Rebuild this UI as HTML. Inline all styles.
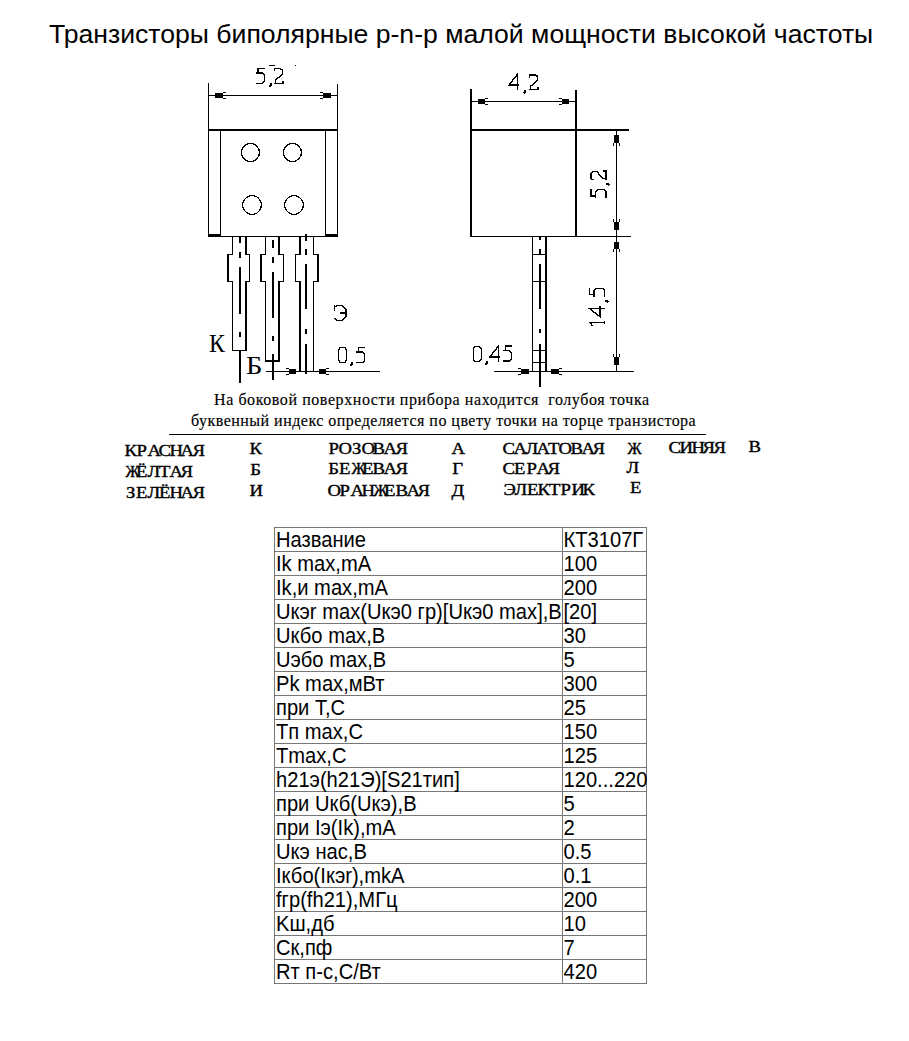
<!DOCTYPE html>
<html><head><meta charset="utf-8"><style>
html,body{margin:0;padding:0;background:#fff;}
body{width:909px;height:1041px;position:relative;overflow:hidden;}
.t{position:absolute;white-space:nowrap;}
#title{left:49px;top:21px;font:26.6px/26px "Liberation Sans",sans-serif;color:#000;}
.s{position:absolute;white-space:nowrap;font-family:"Liberation Serif",serif;color:#000;}
.m{position:absolute;white-space:nowrap;font:17px/1 "Liberation Serif",serif;color:#000;margin-top:-3px;-webkit-text-stroke:0.4px #000;}
.m span{display:inline-block;width:11.3px;text-align:center;transform:scaleX(1.1);}
.m span.n{transform:scaleX(0.92);}
.c{position:absolute;white-space:nowrap;font:20.15px/24px "Liberation Sans",sans-serif;color:#000;transform:scaleY(1.06);transform-origin:0 19px;margin-top:1px;}
</style></head><body>
<div id="title" class="t">Транзисторы биполярные p-n-p малой мощности высокой частоты</div>
<svg width="909" height="1041" style="position:absolute;left:0;top:0"><g fill="#000" shape-rendering="crispEdges"><rect x="208" y="83" width="1" height="154"/><rect x="337" y="84" width="1" height="153"/><rect x="208" y="95" width="130" height="1"/><rect x="215" y="93" width="8" height="5"/><rect x="223" y="92" width="3" height="1"/><rect x="223" y="98" width="3" height="1"/><rect x="323" y="93" width="8" height="5"/><rect x="320" y="92" width="3" height="1"/><rect x="320" y="98" width="3" height="1"/><rect x="208" y="129" width="130" height="2"/><rect x="220" y="129" width="1" height="108"/><rect x="325" y="129" width="1" height="108"/><rect x="208" y="236" width="130" height="1"/><rect x="208" y="234" width="13" height="2"/><rect x="325" y="234" width="13" height="2"/><circle cx="250.5" cy="152.5" r="9" fill="none" stroke="#000" stroke-width="1.2"/><circle cx="292.5" cy="152.5" r="9" fill="none" stroke="#000" stroke-width="1.2"/><circle cx="252" cy="205" r="9.4" fill="none" stroke="#000" stroke-width="1.2"/><circle cx="294" cy="205" r="9.4" fill="none" stroke="#000" stroke-width="1.2"/><rect x="232" y="237" width="1" height="18"/><rect x="245" y="237" width="2" height="18"/><rect x="227" y="254" width="6" height="1"/><rect x="245" y="254" width="5" height="1"/><rect x="227" y="254" width="2" height="28"/><rect x="249" y="254" width="1" height="28"/><rect x="227" y="281" width="6" height="1"/><rect x="245" y="281" width="5" height="1"/><rect x="232" y="281" width="1" height="70"/><rect x="245" y="281" width="2" height="70"/><rect x="232" y="350" width="15" height="1"/><rect x="239" y="237" width="2" height="6"/><rect x="239" y="252" width="2" height="6"/><rect x="239" y="267" width="2" height="47"/><rect x="239" y="332" width="2" height="5"/><rect x="239" y="351" width="2" height="32"/><rect x="265" y="237" width="1" height="18"/><rect x="278" y="237" width="2" height="18"/><rect x="260" y="254" width="6" height="1"/><rect x="278" y="254" width="6" height="1"/><rect x="260" y="254" width="2" height="28"/><rect x="283" y="254" width="1" height="28"/><rect x="260" y="281" width="6" height="1"/><rect x="278" y="281" width="6" height="1"/><rect x="265" y="281" width="1" height="81"/><rect x="278" y="281" width="2" height="81"/><rect x="265" y="360" width="15" height="2"/><rect x="272" y="240" width="2" height="8"/><rect x="272" y="257" width="2" height="6"/><rect x="272" y="272" width="2" height="46"/><rect x="272" y="336" width="2" height="5"/><rect x="272" y="354" width="2" height="26"/><rect x="299" y="237" width="2" height="18"/><rect x="313" y="237" width="1" height="18"/><rect x="295" y="254" width="5" height="1"/><rect x="313" y="254" width="6" height="1"/><rect x="295" y="254" width="1" height="28"/><rect x="317" y="254" width="2" height="28"/><rect x="295" y="281" width="5" height="1"/><rect x="313" y="281" width="6" height="1"/><rect x="299" y="281" width="2" height="91"/><rect x="313" y="281" width="1" height="91"/><rect x="305" y="234" width="2" height="7"/><rect x="305" y="249" width="2" height="6"/><rect x="305" y="264" width="2" height="45"/><rect x="305" y="329" width="2" height="5"/><rect x="305" y="344" width="2" height="30"/><rect x="266" y="371" width="114" height="1"/><rect x="289" y="369" width="7" height="5"/><rect x="286" y="368" width="3" height="1"/><rect x="286" y="374" width="3" height="1"/><rect x="319" y="369" width="7" height="5"/><rect x="326" y="368" width="3" height="1"/><rect x="326" y="374" width="3" height="1"/><rect x="470" y="89" width="2" height="148"/><rect x="575" y="90" width="2" height="147"/><rect x="470" y="101" width="107" height="1"/><rect x="478" y="99" width="7" height="5"/><rect x="485" y="98" width="3" height="1"/><rect x="485" y="104" width="3" height="1"/><rect x="562" y="99" width="7" height="5"/><rect x="559" y="98" width="3" height="1"/><rect x="559" y="104" width="3" height="1"/><rect x="470" y="129" width="159" height="2"/><rect x="470" y="236" width="161" height="1"/><rect x="616" y="129" width="1" height="243"/><rect x="614" y="135" width="5" height="8"/><rect x="613" y="143" width="1" height="3"/><rect x="619" y="143" width="1" height="3"/><rect x="614" y="222" width="5" height="8"/><rect x="613" y="219" width="1" height="3"/><rect x="619" y="219" width="1" height="3"/><rect x="614" y="242" width="5" height="7"/><rect x="613" y="249" width="1" height="3"/><rect x="619" y="249" width="1" height="3"/><rect x="614" y="357" width="5" height="8"/><rect x="613" y="354" width="1" height="3"/><rect x="619" y="354" width="1" height="3"/><rect x="532" y="237" width="1" height="135"/><rect x="545" y="237" width="2" height="135"/><rect x="532" y="254" width="15" height="1"/><rect x="532" y="281" width="15" height="1"/><rect x="532" y="350" width="15" height="1"/><rect x="532" y="362" width="15" height="1"/><rect x="539" y="237" width="2" height="3"/><rect x="539" y="249" width="2" height="5"/><rect x="539" y="264" width="2" height="45"/><rect x="539" y="329" width="2" height="4"/><rect x="539" y="344" width="2" height="43"/><rect x="494" y="371" width="140" height="1"/><rect x="521" y="369" width="8" height="5"/><rect x="518" y="368" width="3" height="1"/><rect x="518" y="374" width="3" height="1"/><rect x="551" y="369" width="8" height="5"/><rect x="559" y="368" width="3" height="1"/><rect x="559" y="374" width="3" height="1"/><g transform="translate(256,68)" fill="none" stroke="#000"><path d="M8.6,0.5 L2,0.5 L2,4.8 M0,4.8 L6,4.8 L8.3,7 L8.3,13.5 L6.3,15.5 L0,15.5" transform="translate(0,0)" stroke-width="1.4"/><path d="M1.5,15.3 L1.5,17.3 L0,18.8" transform="translate(13.5,0)" stroke-width="2"/><path d="M0,3.3 L0,1 L1,0.5 L5.8,0.5 L8.3,2 L8.3,6.3 L1,12.3 L1,15.3 M0,15.3 L8.8,15.3 L8.8,12.8" transform="translate(18.2,0)" stroke-width="1.4"/></g><rect x="269" y="65" width="6" height="1"/><rect x="295" y="65" width="1" height="1"/><g transform="translate(509,74.3)" fill="none" stroke="#000"><path d="M8.2,16 L8.2,0.3 L0,10.8 L10.3,10.8" transform="translate(0,0)" stroke-width="1.4"/><path d="M1.5,15.3 L1.5,17.3 L0,18.8" transform="translate(14.5,0)" stroke-width="2"/><path d="M0,3.3 L0,1 L1,0.5 L5.8,0.5 L8.3,2 L8.3,6.3 L1,12.3 L1,15.3 M0,15.3 L8.8,15.3 L8.8,12.8" transform="translate(20.2,0)" stroke-width="1.4"/></g><g transform="translate(590.5,198) rotate(-90)" fill="none" stroke="#000"><path d="M8.6,0.5 L2,0.5 L2,4.8 M0,4.8 L6,4.8 L8.3,7 L8.3,13.5 L6.3,15.5 L0,15.5" transform="translate(0,0)" stroke-width="1.4"/><path d="M1.5,15.3 L1.5,17.3 L0,18.8" transform="translate(13,0)" stroke-width="2"/><path d="M0,3.3 L0,1 L1,0.5 L5.8,0.5 L8.3,2 L8.3,6.3 L1,12.3 L1,15.3 M0,15.3 L8.8,15.3 L8.8,12.8" transform="translate(18.3,0)" stroke-width="1.4"/></g><g transform="translate(589.3,326.5) rotate(-90)" fill="none" stroke="#000"><path d="M0.8,3 L4.2,0.5 L4.2,15.5 M2.5,15.5 L6,15.5" transform="translate(0,0)" stroke-width="1.4"/><path d="M8.2,16 L8.2,0.3 L0,10.8 L10.3,10.8" transform="translate(9.7,0)" stroke-width="1.4"/><path d="M1.5,15.3 L1.5,17.3 L0,18.8" transform="translate(24.5,0)" stroke-width="2"/><path d="M8.6,0.5 L2,0.5 L2,4.8 M0,4.8 L6,4.8 L8.3,7 L8.3,13.5 L6.3,15.5 L0,15.5" transform="translate(30,0)" stroke-width="1.4"/></g><g transform="translate(338.4,347)" fill="none" stroke="#000"><path d="M2,0.5 L6.3,0.5 L8.3,2.8 L8.3,13.2 L6.3,15.5 L2,15.5 L0,13.2 L0,2.8 Z" transform="translate(0,0)" stroke-width="1.4"/><path d="M1.5,15.3 L1.5,17.3 L0,18.8" transform="translate(12.1,0)" stroke-width="2"/><path d="M8.6,0.5 L2,0.5 L2,4.8 M0,4.8 L6,4.8 L8.3,7 L8.3,13.5 L6.3,15.5 L0,15.5" transform="translate(18,0)" stroke-width="1.4"/></g><g transform="translate(473.2,346)" fill="none" stroke="#000"><path d="M2,0.5 L6.3,0.5 L8.3,2.8 L8.3,13.2 L6.3,15.5 L2,15.5 L0,13.2 L0,2.8 Z" transform="translate(0,0)" stroke-width="1.4"/><path d="M1.5,15.3 L1.5,17.3 L0,18.8" transform="translate(12.3,0)" stroke-width="2"/></g><g transform="translate(490,346)" fill="none" stroke="#000"><path d="M8.2,16 L8.2,0.3 L0,10.8 L10.3,10.8" transform="translate(0,0)" stroke-width="1.4"/></g><g transform="translate(503.2,345.5)" fill="none" stroke="#000"><path d="M8.6,0.5 L2,0.5 L2,4.8 M0,4.8 L6,4.8 L8.3,7 L8.3,13.5 L6.3,15.5 L0,15.5" transform="translate(0,0)" stroke-width="1.4"/></g><path d="M0.5,0 L0.5,5.6 M1.5,2.5 L3,0.5 L8.5,0.5 L10,2.5 L12,4 L12,11.8 L10.2,13.5 L8.5,15.5 L3,15.5 L0.5,12.8 M5.8,8 L12,8" transform="translate(334,305)" fill="none" stroke="#000" stroke-width="1.3"/></g></svg>
<div class="s" style="left:208.5px;top:333.5px;font-size:22px;line-height:22px;transform:scale(1.08,1.1);transform-origin:0 19px">К</div>
<div class="s" style="left:246px;top:355px;font-size:22px;line-height:22px;transform:scale(1.3,1.1);transform-origin:0 4px">Б</div>
<div class="s" style="left:214px;top:392px;font-size:16px;line-height:16px;letter-spacing:0.58px;-webkit-text-stroke:0.15px #000">На боковой поверхности прибора находится &nbsp;голубоя точка</div>
<div class="s" style="left:191px;top:413px;font-size:16px;line-height:16px;letter-spacing:0.48px;-webkit-text-stroke:0.15px #000">буквенный индекс определяется по цвету точки на торце транзистора</div>
<div style="position:absolute;left:169px;top:433.5px;width:537px;height:1.5px;background:#000"></div>
<div class="m" style="left:125px;top:445px"><span>К</span><span>Р</span><span>А</span><span>С</span><span>Н</span><span>А</span><span>Я</span></div><div class="m" style="left:250px;top:443px"><span>К</span></div><div class="m" style="left:328px;top:443px"><span>Р</span><span>О</span><span>З</span><span>О</span><span>В</span><span>А</span><span>Я</span></div><div class="m" style="left:452px;top:443px"><span>А</span></div><div class="m" style="left:503px;top:443px"><span>С</span><span>А</span><span>Л</span><span>А</span><span>Т</span><span>О</span><span>В</span><span>А</span><span>Я</span></div><div class="m" style="left:627px;top:443px"><span class="n">Ж</span></div><div class="m" style="left:669px;top:442px"><span>С</span><span>И</span><span>Н</span><span>Я</span><span>Я</span></div><div class="m" style="left:749px;top:441px"><span>В</span></div><div class="m" style="left:125px;top:466px"><span class="n">Ж</span><span>Ё</span><span>Л</span><span>Т</span><span>А</span><span>Я</span></div><div class="m" style="left:250px;top:464px"><span>Б</span></div><div class="m" style="left:328px;top:463px"><span>Б</span><span>Е</span><span class="n">Ж</span><span>Е</span><span>В</span><span>А</span><span>Я</span></div><div class="m" style="left:452px;top:463px"><span>Г</span></div><div class="m" style="left:503px;top:463px"><span>С</span><span>Е</span><span>Р</span><span>А</span><span>Я</span></div><div class="m" style="left:627px;top:462px"><span>Л</span></div><div class="m" style="left:125px;top:487px"><span>З</span><span>Е</span><span>Л</span><span>Ё</span><span>Н</span><span>А</span><span>Я</span></div><div class="m" style="left:250px;top:485px"><span>И</span></div><div class="m" style="left:328px;top:485px"><span>О</span><span>Р</span><span>А</span><span>Н</span><span class="n">Ж</span><span>Е</span><span>В</span><span>А</span><span>Я</span></div><div class="m" style="left:452px;top:485px"><span>Д</span></div><div class="m" style="left:504px;top:484px"><span>Э</span><span>Л</span><span>Е</span><span>К</span><span>Т</span><span>Р</span><span>И</span><span>К</span></div><div class="m" style="left:630px;top:482px"><span>Е</span></div>
<div style="position:absolute;left:274px;top:527px;width:373px;height:1px;background:#777777"></div><div style="position:absolute;left:274px;top:551px;width:373px;height:1px;background:#777777"></div><div style="position:absolute;left:274px;top:575px;width:373px;height:1px;background:#777777"></div><div style="position:absolute;left:274px;top:599px;width:373px;height:1px;background:#777777"></div><div style="position:absolute;left:274px;top:623px;width:373px;height:1px;background:#777777"></div><div style="position:absolute;left:274px;top:647px;width:373px;height:1px;background:#777777"></div><div style="position:absolute;left:274px;top:671px;width:373px;height:1px;background:#777777"></div><div style="position:absolute;left:274px;top:695px;width:373px;height:1px;background:#777777"></div><div style="position:absolute;left:274px;top:719px;width:373px;height:1px;background:#777777"></div><div style="position:absolute;left:274px;top:743px;width:373px;height:1px;background:#777777"></div><div style="position:absolute;left:274px;top:767px;width:373px;height:1px;background:#777777"></div><div style="position:absolute;left:274px;top:791px;width:373px;height:1px;background:#777777"></div><div style="position:absolute;left:274px;top:815px;width:373px;height:1px;background:#777777"></div><div style="position:absolute;left:274px;top:839px;width:373px;height:1px;background:#777777"></div><div style="position:absolute;left:274px;top:863px;width:373px;height:1px;background:#777777"></div><div style="position:absolute;left:274px;top:887px;width:373px;height:1px;background:#777777"></div><div style="position:absolute;left:274px;top:911px;width:373px;height:1px;background:#777777"></div><div style="position:absolute;left:274px;top:935px;width:373px;height:1px;background:#777777"></div><div style="position:absolute;left:274px;top:959px;width:373px;height:1px;background:#777777"></div><div style="position:absolute;left:274px;top:983px;width:373px;height:1px;background:#777777"></div><div style="position:absolute;left:274px;top:527px;width:1px;height:457px;background:#777777"></div><div style="position:absolute;left:562px;top:527px;width:1px;height:457px;background:#777777"></div><div style="position:absolute;left:646px;top:527px;width:1px;height:457px;background:#777777"></div><div class="c" style="left:276px;top:527px">Название</div><div class="c" style="left:563.5px;top:527px">КТ3107Г</div><div class="c" style="left:276px;top:551px">Ik max,mA</div><div class="c" style="left:563.5px;top:551px">100</div><div class="c" style="left:276px;top:575px">Ik,и max,mA</div><div class="c" style="left:563.5px;top:575px">200</div><div class="c" style="left:276px;top:599px">Uкэr max(Uкэ0 гр)[Uкэ0 max],В</div><div class="c" style="left:563.5px;top:599px">[20]</div><div class="c" style="left:276px;top:623px">Uкбо max,В</div><div class="c" style="left:563.5px;top:623px">30</div><div class="c" style="left:276px;top:647px">Uэбо max,В</div><div class="c" style="left:563.5px;top:647px">5</div><div class="c" style="left:276px;top:671px">Pk max,мВт</div><div class="c" style="left:563.5px;top:671px">300</div><div class="c" style="left:276px;top:695px">при T,C</div><div class="c" style="left:563.5px;top:695px">25</div><div class="c" style="left:276px;top:719px">Tп max,C</div><div class="c" style="left:563.5px;top:719px">150</div><div class="c" style="left:276px;top:743px">Tmax,C</div><div class="c" style="left:563.5px;top:743px">125</div><div class="c" style="left:276px;top:767px">h21э(h21Э)[S21тип]</div><div class="c" style="left:563.5px;top:767px">120...220</div><div class="c" style="left:276px;top:791px">при Uкб(Uкэ),В</div><div class="c" style="left:563.5px;top:791px">5</div><div class="c" style="left:276px;top:815px">при Iэ(Ik),mA</div><div class="c" style="left:563.5px;top:815px">2</div><div class="c" style="left:276px;top:839px">Uкэ нас,В</div><div class="c" style="left:563.5px;top:839px">0.5</div><div class="c" style="left:276px;top:863px">Iкбо(Iкэr),mkA</div><div class="c" style="left:563.5px;top:863px">0.1</div><div class="c" style="left:276px;top:887px">fгр(fh21),МГц</div><div class="c" style="left:563.5px;top:887px">200</div><div class="c" style="left:276px;top:911px">Kш,дб</div><div class="c" style="left:563.5px;top:911px">10</div><div class="c" style="left:276px;top:935px">Cк,пф</div><div class="c" style="left:563.5px;top:935px">7</div><div class="c" style="left:276px;top:959px">Rт п-с,C/Вт</div><div class="c" style="left:563.5px;top:959px">420</div>
</body></html>
